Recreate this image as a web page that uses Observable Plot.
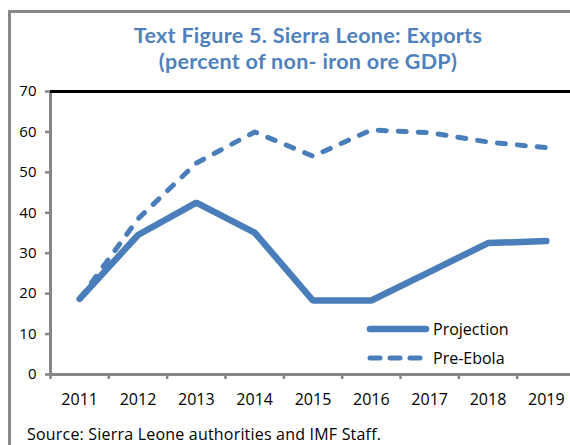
<!DOCTYPE html>
<html>
<head>
<meta charset="utf-8">
<script src="https://cdn.jsdelivr.net/npm/d3@7"></script>
<script src="https://cdn.jsdelivr.net/npm/@observablehq/plot@0.6"></script>
<style>
  html, body { margin: 0; padding: 0; background: #fff; }
  body { width: 570px; height: 445px; position: relative; overflow: hidden; font-family: "Open Sans", sans-serif; }
  #frame { position: absolute; left: 8px; top: 10px; width: 700px; height: 600px; border: 3px solid #898989; box-sizing: border-box; }
  #title { position: absolute; left: 108px; width: 400px; top: 22px; text-align: center; font-family: Lato, sans-serif; font-weight: bold; font-size: 21.5px; letter-spacing: 0.3px; line-height: 26px; color: #4f81bd; white-space: nowrap; }
  #chart { position: absolute; left: 0; top: 0; }
  #legend { position: absolute; left: 366px; top: 314px; font-size: 16px; color: #000; }
  .lg { display: flex; align-items: center; height: 29px; }
  .lg span { margin-left: 3px; }
  #source { position: absolute; left: 27px; top: 423px; font-size: 16px; letter-spacing: 0.2px; color: #000; white-space: nowrap; }
</style>
</head>
<body>
<div id="frame"></div>
<div id="title"></div>
<div id="chart"></div>
<div id="legend"></div>
<div id="source"></div>
<script>
const titleLines = ["Text Figure 5. Sierra Leone: Exports", "(percent of non- iron ore GDP)"];
const sourceText = "Source: Sierra Leone authorities and IMF Staff.";
const years = [2011, 2012, 2013, 2014, 2015, 2016, 2017, 2018, 2019];
const projection = [18.7, 34.5, 42.5, 35.1, 18.3, 18.3, 25.4, 32.5, 33.0];
const preEbola = [18.7, 38.5, 52.3, 60.0, 54.0, 60.5, 59.8, 57.5, 56.1];
const yTicks = [0, 10, 20, 30, 40, 50, 60, 70];
const seriesNames = ["Projection", "Pre-Ebola"];

const blue = "#4a7ebb";
const axisGray = "#868686";

document.getElementById("title").innerHTML = titleLines.map(t => `<div>${t}</div>`).join("");
document.getElementById("source").textContent = sourceText;

const projData = years.map((y, i) => ({year: y, value: projection[i]}));
const preData = years.map((y, i) => ({year: y, value: preEbola[i]}));
const boundaries = [years[0] - 0.5, ...years.map(y => y + 0.5)];

const plot = Plot.plot({
  width: 570,
  height: 445,
  marginLeft: 50,
  marginRight: 0,
  marginTop: 91,
  marginBottom: 71,
  style: {fontFamily: "Open Sans, sans-serif", background: "transparent", overflow: "hidden"},
  x: {domain: [years[0] - 0.5, years[years.length - 1] + 0.5], range: [50, 575]},
  y: {domain: [0, 70]},
  marks: [
    Plot.axisY(yTicks, {tickSize: 5, stroke: axisGray, strokeWidth: 2.5, tickFormat: () => "", label: null}),
    Plot.axisY(yTicks, {tickSize: 0, tickPadding: 14, fontSize: 15, fill: "#000", tickFormat: d => String(d), label: null}),
    Plot.axisX(boundaries, {tickSize: 5, stroke: axisGray, strokeWidth: 2.5, tickFormat: () => "", label: null}),
    Plot.axisX(years, {tickSize: 0, tickPadding: 19, fontSize: 16, fill: "#000", tickFormat: d => String(d), label: null}),
    Plot.ruleX([years[0] - 0.5], {stroke: axisGray, strokeWidth: 3}),
    Plot.ruleY([0], {stroke: axisGray, strokeWidth: 3}),
    Plot.ruleY([70], {stroke: "#000", strokeWidth: 3}),
    Plot.line(preData, {x: "year", y: "value", stroke: blue, strokeWidth: 5, strokeDasharray: "8,12", strokeLinecap: "round"}),
    Plot.line(projData, {x: "year", y: "value", stroke: blue, strokeWidth: 6.5, strokeLinejoin: "miter"})
  ]
});
document.getElementById("chart").appendChild(plot);

const legend = document.getElementById("legend");
legend.innerHTML =
  `<div class="lg"><svg width="64" height="10"><line x1="4" y1="5" x2="60" y2="5" stroke="${blue}" stroke-width="6.5" stroke-linecap="round"/></svg><span>${seriesNames[0]}</span></div>` +
  `<div class="lg"><svg width="64" height="10"><line x1="4" y1="5" x2="60" y2="5" stroke="${blue}" stroke-width="5" stroke-dasharray="10,10" stroke-linecap="round"/></svg><span>${seriesNames[1]}</span></div>`;
</script>
</body>
</html>
